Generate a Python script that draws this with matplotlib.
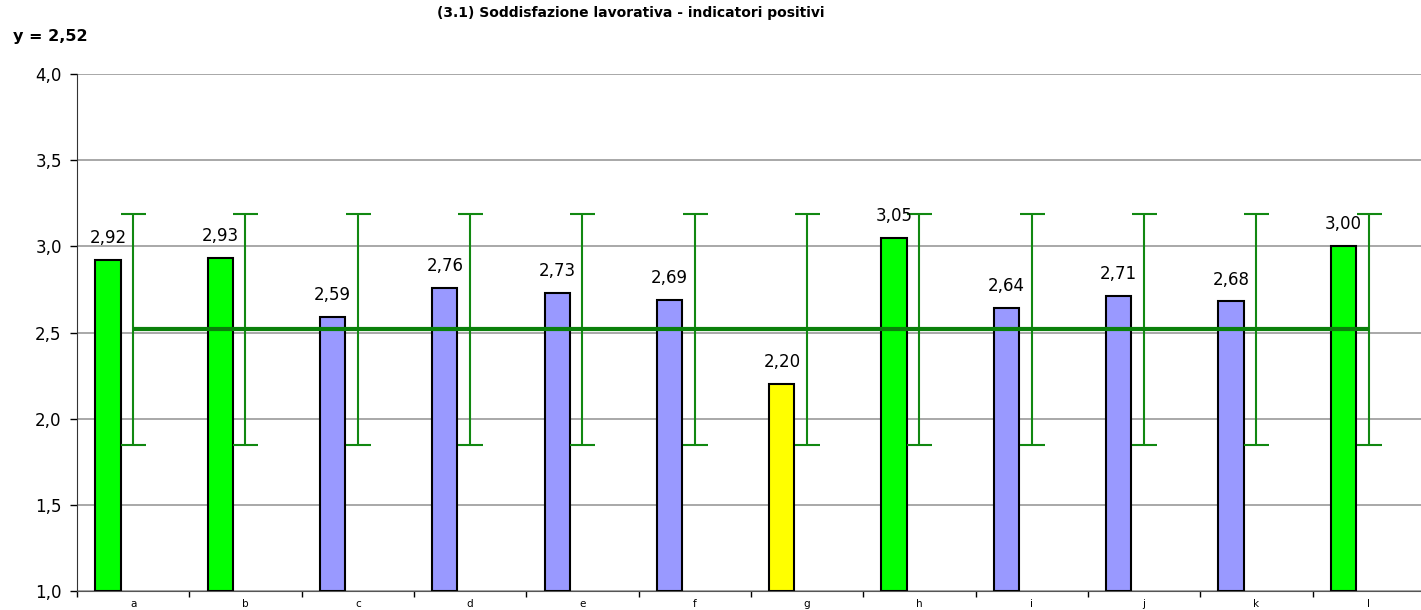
import matplotlib
matplotlib.use("Agg")
import matplotlib.pyplot as plt
import numpy as np

categories = ["a", "b", "c", "d", "e", "f", "g", "h", "i", "j", "k", "l"]
values = [2.92, 2.93, 2.59, 2.76, 2.73, 2.69, 2.20, 3.05, 2.64, 2.71, 2.68, 3.00]
bar_colors = ["#00FF00", "#00FF00", "#9999FF", "#9999FF", "#9999FF", "#9999FF",
              "#FFFF00", "#00FF00", "#9999FF", "#9999FF", "#9999FF", "#00FF00"]
mean_value = 2.52
range_low = 1.85
range_high = 3.19
title = "(3.1) Soddisfazione lavorativa - indicatori positivi"
mean_label = "y = 2,52"
yticks = [1.0, 1.5, 2.0, 2.5, 3.0, 3.5, 4.0]

plt.rcParams["font.family"] = ["DejaVu Sans"]

fig = plt.figure(figsize=(14.21, 6.10), dpi=100)
ax = fig.add_axes([0.0542, 0.0311, 0.9485, 0.8476])

x = np.arange(len(categories))
bar_offset = -0.225
bar_w = 0.225

ax.bar(x + bar_offset, np.array(values) - 1.0, bottom=1.0, width=bar_w,
       color=bar_colors, edgecolor="black", linewidth=1.5, zorder=3)

for xi, v in zip(x, values):
    ax.text(xi + bar_offset, v + 0.075, f"{v:.2f}".replace(".", ","),
            ha="center", va="bottom", fontsize=12, zorder=5)

# range bars
means = np.full(len(categories), mean_value)
ax.errorbar(x, means, yerr=[means - range_low, np.full(len(categories), range_high) - means],
            fmt="none", ecolor="#118811", elinewidth=1.5, capsize=9, capthick=1.5, zorder=4)
ax.plot(x, means, color="#0A800A", linewidth=3, zorder=4, solid_capstyle="butt")

ax.set_xlim(-0.5, len(categories) - 0.5)
ax.set_ylim(1.0, 4.0)
ax.set_yticks(yticks)
ax.set_yticklabels([f"{t:.1f}".replace(".", ",") for t in yticks], fontsize=12)
ax.yaxis.grid(True, color="#999999", linewidth=1.2, zorder=0)
ax.set_axisbelow(True)

ax.set_xticks(x)
ax.set_xticklabels(categories, fontsize=7.5)
ax.tick_params(axis="x", length=0, pad=6)
ax.set_xticks(np.arange(len(categories) + 1) - 0.5, minor=True)
ax.tick_params(axis="x", which="minor", length=4, direction="out", width=1)
ax.tick_params(axis="y", length=5, width=1, direction="out", pad=6)

ax.spines["top"].set_visible(False)
ax.spines["right"].set_visible(False)
ax.spines["left"].set_color("#333333")
ax.spines["bottom"].set_color("#555555")

fig.text(0.444, 0.978, title, ha="center", va="center", fontsize=10, fontweight="bold")
fig.text(0.009, 0.94, mean_label, ha="left", va="center", fontsize=11.5, fontweight="bold")

fig.savefig("out.png", dpi=100)
